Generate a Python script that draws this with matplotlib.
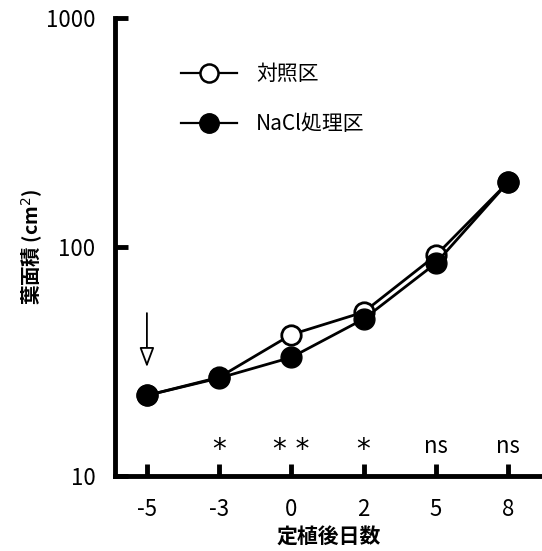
import matplotlib
matplotlib.use("Agg")
import matplotlib.pyplot as plt
from matplotlib.ticker import FixedLocator, NullLocator

plt.rcParams['font.family'] = ['Noto Sans CJK JP', 'DejaVu Sans']

days = ["-5", "-3", "0", "2", "5", "8"]
control = [22.5, 27.0, 41.5, 52.0, 92.0, 192.0]
nacl = [22.5, 26.8, 33.0, 48.5, 85.0, 192.0]
signif = ["", "*", "* *", "*", "ns", "ns"]
label_control = "対照区"
label_nacl = "NaCl処理区"
xlabel = "定植後日数"
ylabel = "葉面積 (cm$^2$)"

fig = plt.figure(figsize=(5.42, 5.51), dpi=100)
ax = fig.add_axes([0.212, 0.136, 0.788, 0.831])
x = list(range(len(days)))

ax.plot(x, control, '-o', color='black', lw=2.0, ms=14, mfc='white', mec='black', mew=2.0, zorder=3)
ax.plot(x, nacl, '-o', color='black', lw=2.0, ms=15, mfc='black', mec='black', zorder=4)

ax.set_yscale('log')
ax.set_ylim(10, 1000)
ax.set_xlim(-0.443, 5.47)
ax.yaxis.set_major_locator(FixedLocator([10, 100, 1000]))
ax.yaxis.set_minor_locator(NullLocator())
ax.set_yticklabels(["10", "100", "1000"])
ax.set_xticks(x)
ax.set_xticklabels(days)
ax.tick_params(axis='both', direction='in', width=3.5, length=9, labelsize=16)
ax.tick_params(axis='x', pad=16)
ax.tick_params(axis='y', pad=14)

for s in ['top', 'right']:
    ax.spines[s].set_visible(False)
for s in ['left', 'bottom']:
    ax.spines[s].set_linewidth(3.5)

for xi, s in zip(x, signif):
    if s:
        if s.startswith('*'):
            ax.text(xi, 13.0, s, ha='center', va='center', fontsize=20,
                    family=['DejaVu Sans'])
        else:
            ax.text(xi, 13.5, s, ha='center', va='center', fontsize=16)

# arrow at planting
ax.annotate("", xy=(0, 29.9), xytext=(0, 51.5),
            arrowprops=dict(arrowstyle='-|>,head_width=0.45,head_length=1.2',
                            fc='white', ec='black', lw=1.3, shrinkA=0, shrinkB=0))

ax.set_xlabel(xlabel, fontsize=15, fontweight='bold', labelpad=4)
ax.set_ylabel(ylabel, fontsize=14, fontweight='bold')
ax.yaxis.set_label_coords(-0.163, 0.5)

# legend
leg = ax.legend([plt.Line2D([], [], color='black', lw=1.6, marker='o', ms=13, mfc='white', mec='black', mew=1.8),
                 plt.Line2D([], [], color='black', lw=1.6, marker='o', ms=14, mfc='black', mec='black')],
                [label_control, label_nacl], loc='upper left', bbox_to_anchor=(0.111, 0.943),
                frameon=False, fontsize=15, handlelength=2.7, labelspacing=1.35, handletextpad=0.9)

fig.savefig("out.png", dpi=100)
